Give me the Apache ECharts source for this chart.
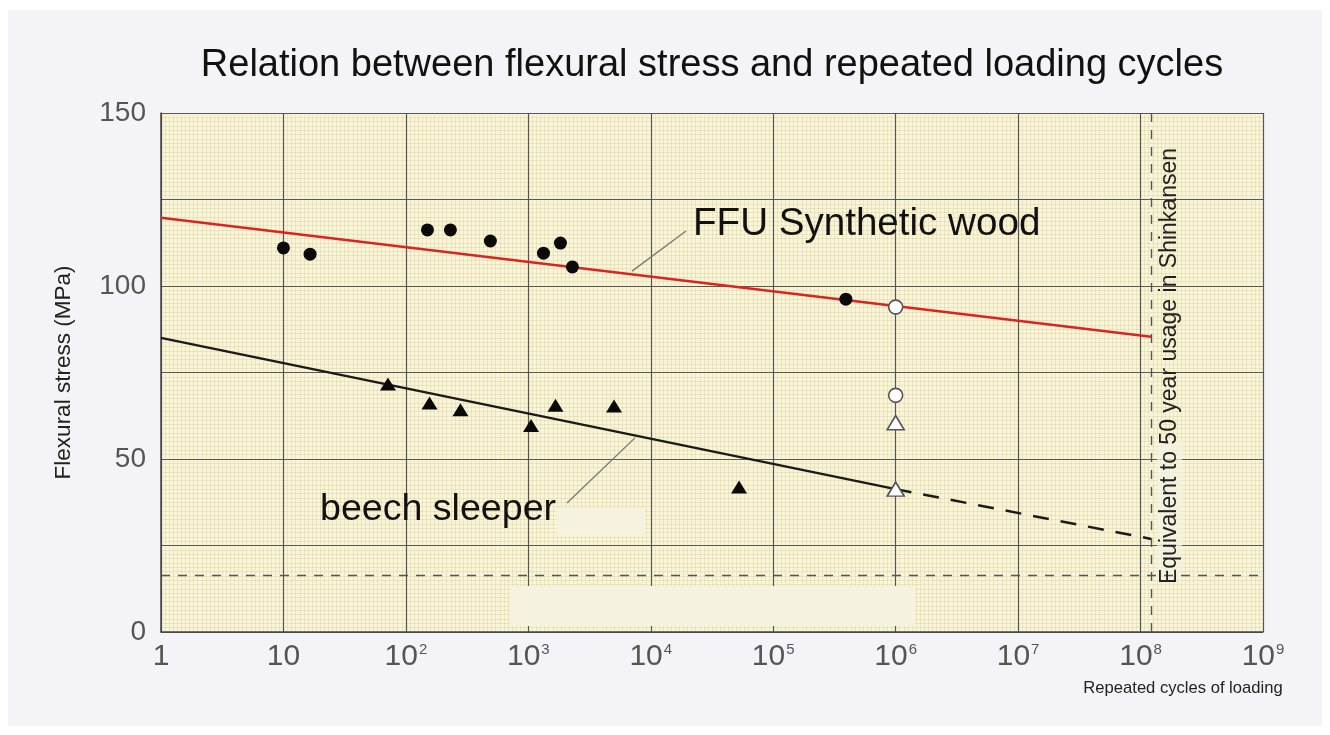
<!DOCTYPE html>
<html>
<head>
<meta charset="utf-8">
<script src="https://cdn.jsdelivr.net/npm/echarts@6/dist/echarts.min.js"></script>
<style>
  html, body { margin: 0; padding: 0; background: #ffffff; }
  #chart { width: 1330px; height: 735px; }
</style>
</head>
<body>
<div id="chart"></div>
<script>
// FFU synthetic wood test points (filled circles)
const ffuCycles = [10, 16.5, 150, 231, 490, 1330, 1830, 2290, 392000];
const ffuStress = [111.0, 109.2, 116.2, 116.2, 113.0, 109.5, 112.4, 105.5, 96.2];
// FFU run-outs at 10^6 (open circles)
const ffuOpenCycles = [1e6, 1e6];
const ffuOpenStress = [93.9, 68.4];
// beech sleeper test points (filled triangles)
const beechCycles = [71.4, 156, 279, 1052, 1667, 5010, 52600];
const beechStress = [71.7, 66.2, 64.2, 59.7, 65.5, 65.3, 41.9];
// beech run-outs at 10^6 (open triangles)
const beechOpenCycles = [1e6, 1e6];
const beechOpenStress = [60.5, 41.3];
// fitted lines
const ffuFitCycles = [1, 1.22e8];
const ffuFitStress = [119.7, 85.3];
const beechFitCycles = [1, 1e6];
const beechFitStress = [85.0, 41.3];
const beechExtCycles = [1e6, 1.22e8];
const beechExtStress = [41.3, 26.9];
// leader lines for the labels
const ffuLeaderCycles = [7030, 19400];
const ffuLeaderStress = [104.3, 115.9];
const beechLeaderCycles = [2070, 7430];
const beechLeaderStress = [37.3, 56.1];
// reference lines
const fiftyYearCycles = 1.22e8;
const lowStressLine = 16.5;
const yTicks = [0, 50, 100, 150];

const zip = (xs, ys) => xs.map((x, i) => [x, ys[i]]);

const chart = echarts.init(document.getElementById('chart'));

const getOption = () => {
  return {
    backgroundColor: '#ffffff',
    animation: false,
    textStyle: { fontFamily: 'Liberation Sans' },
    title: {
      text: 'Relation between flexural stress and repeated loading cycles',
      left: 707,
      top: 42,
      textAlign: 'center',
      textStyle: { fontSize: 38, fontWeight: 'normal', color: '#111', fontFamily: 'Liberation Sans' }
    },
    grid: {
      left: 161, right: 67, top: 113, bottom: 103,
      show: true,
      backgroundColor: '#f9f5d8',
      borderWidth: 0
    },
    xAxis: [
      {
        type: 'log',
        logBase: 10,
        min: 1,
        max: 1e9,
        splitNumber: 9,
        axisLine: { show: true, lineStyle: { color: '#444', width: 1.5 } },
        axisTick: { show: false },
        splitLine: { show: true, lineStyle: { color: '#555', width: 1.2 } },
        axisLabel: {
          margin: 10,
          color: '#555',
          showMaxLabel: true,
          formatter: (v) => {
            const n = Math.round(Math.log10(v));
            if (n === 0) return '{b|1}';
            if (n === 1) return '{b|10}';
            return '{b|10}{s|' + n + '}';
          },
          rich: {
            b: { fontSize: 30, color: '#555', fontFamily: 'Liberation Sans' },
            s: { fontSize: 15, color: '#555', verticalAlign: 'top', padding: [0, 0, 14, 1], fontFamily: 'Liberation Sans' }
          }
        }
      },
      {
        // plain helper axis for the graph-paper texture
        type: 'value',
        min: 0,
        max: 9,
        interval: 1,
        show: true,
        position: 'top',
        axisLine: { show: false },
        axisTick: { show: false },
        axisLabel: { show: false },
        splitLine: { show: false },
        minorTick: { show: false, splitNumber: 30 },
        minorSplitLine: { show: true, lineStyle: { color: 'rgba(190,175,110,0.22)', width: 1 } }
      }
    ],
    yAxis: {
      type: 'value',
      min: 0,
      max: 150,
      interval: 25,
      name: 'Flexural stress (MPa)',
      nameLocation: 'middle',
      nameRotate: 90,
      nameGap: 86,
      nameTextStyle: { fontSize: 22.5, color: '#222', fontFamily: 'Liberation Sans' },
      axisLine: { show: true, lineStyle: { color: '#444', width: 1.5 } },
      axisTick: { show: false },
      axisLabel: {
        margin: 15,
        fontSize: 28,
        color: '#555',
        formatter: (v) => (yTicks.indexOf(v) >= 0 ? String(v) : '')
      },
      splitLine: { show: true, lineStyle: { color: '#555', width: 1.2 } },
      minorTick: { show: false, splitNumber: 20 },
      minorSplitLine: { show: true, lineStyle: { color: 'rgba(190,175,110,0.22)', width: 1 } }
    },
    graphic: [
      { type: 'rect', z: -100, shape: { x: 8, y: 10, width: 1314, height: 716 }, style: { fill: '#f3f3f8' } },
      // pale patches left over in the scan
      { type: 'rect', z: 1, shape: { x: 510, y: 586, width: 405, height: 40 }, style: { fill: '#f5f3e0' } },
      { type: 'rect', z: 1, shape: { x: 557, y: 508, width: 88, height: 27 }, style: { fill: '#f5f3e0' } },
      { type: 'rect', z: 1, shape: { x: 1157, y: 440, width: 25, height: 140 }, style: { fill: 'rgba(245,243,226,0.7)' } },
      {
        type: 'text', z: 10, x: 693, y: 224,
        style: { text: 'FFU Synthetic wood', fontSize: 38.6, fill: '#111', fontFamily: 'Liberation Sans', verticalAlign: 'middle' }
      },
      {
        type: 'text', z: 10, x: 320, y: 510,
        style: { text: 'beech sleeper', fontSize: 37.6, fill: '#111', fontFamily: 'Liberation Sans', verticalAlign: 'middle' }
      },
      {
        type: 'text', z: 10, x: 1170, y: 366, rotation: Math.PI / 2,
        style: { text: 'Equivalent to 50 year usage in Shinkansen', fontSize: 23, fill: '#222', fontFamily: 'Liberation Sans', align: 'center', verticalAlign: 'middle' }
      },
      {
        type: 'text', z: 10, x: 1183, y: 688,
        style: { text: 'Repeated cycles of loading', fontSize: 16.6, fill: '#222', fontFamily: 'Liberation Sans', align: 'center', verticalAlign: 'middle' }
      }
    ],
    series: [
      {
        type: 'line',
        data: zip(ffuFitCycles, ffuFitStress),
        symbol: 'none',
        lineStyle: { color: '#d8261f', width: 2.5 },
        z: 3,
        markLine: {
          symbol: 'none',
          silent: true,
          label: { show: false },
          lineStyle: { color: '#555', type: [9, 8], width: 1.4 },
          data: [{ yAxis: lowStressLine }, { xAxis: fiftyYearCycles }]
        }
      },
      {
        type: 'line',
        data: zip(beechFitCycles, beechFitStress),
        symbol: 'none',
        lineStyle: { color: '#1a1a1a', width: 2.5 },
        z: 3
      },
      {
        type: 'line',
        data: zip(beechExtCycles, beechExtStress),
        symbol: 'none',
        lineStyle: { color: '#1a1a1a', width: 2.5, type: [16, 12] },
        z: 3
      },
      {
        type: 'line',
        data: zip(ffuLeaderCycles, ffuLeaderStress),
        symbol: 'none',
        lineStyle: { color: '#777', width: 1.3 },
        z: 3
      },
      {
        type: 'line',
        data: zip(beechLeaderCycles, beechLeaderStress),
        symbol: 'none',
        lineStyle: { color: '#777', width: 1.3 },
        z: 3
      },
      {
        type: 'scatter',
        data: zip(ffuCycles, ffuStress),
        symbol: 'circle',
        symbolSize: 13,
        itemStyle: { color: '#0a0a0a', opacity: 1 },
        z: 5
      },
      {
        type: 'scatter',
        data: zip(ffuOpenCycles, ffuOpenStress),
        symbol: 'circle',
        symbolSize: 14,
        itemStyle: { color: '#ffffff', borderColor: '#555', borderWidth: 1.6, opacity: 1 },
        z: 5
      },
      {
        type: 'scatter',
        data: zip(beechCycles, beechStress),
        symbol: 'triangle',
        symbolSize: [16, 13],
        itemStyle: { color: '#0a0a0a', opacity: 1 },
        z: 5
      },
      {
        type: 'scatter',
        data: zip(beechOpenCycles, beechOpenStress),
        symbol: 'triangle',
        symbolSize: [17, 14],
        itemStyle: { color: '#ffffff', borderColor: '#555', borderWidth: 1.6, opacity: 1 },
        z: 5
      }
    ]
  };
};

chart.setOption(getOption());
</script>
</body>
</html>
